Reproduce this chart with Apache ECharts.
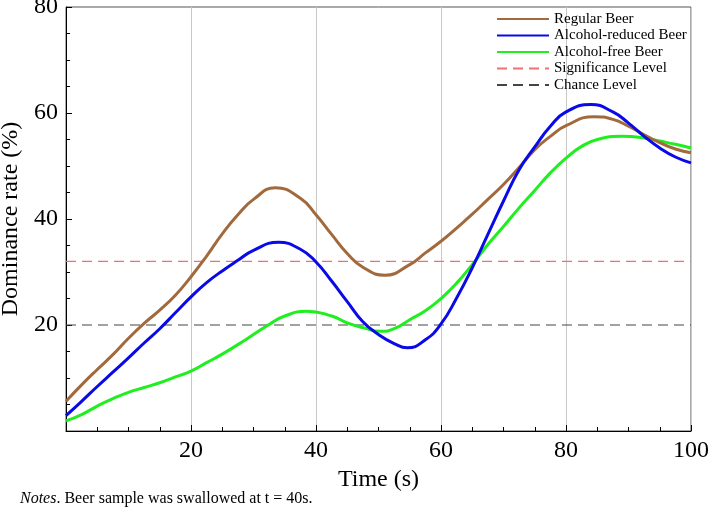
<!DOCTYPE html>
<html>
<head>
<meta charset="utf-8">
<script src="https://cdn.jsdelivr.net/npm/echarts@6/dist/echarts.min.js"></script>
<style>
html,body{margin:0;padding:0;background:#fff;}
#chart{width:709px;height:514px;}
</style>
</head>
<body>
<div id="chart"></div>
<script>
// Values (time in s, dominance rate in %)
var regularTimes = [0,2.5,5,7.5,10,12.5,15,17.5,20,22.5,25,27.5,30,33.5,37.5,40,42.5,45,47.5,51,55,57.5,60,62.5,65,67.5,70,72.5,75,77.5,80,84.5,87.5,90,92.5,95,97.5,100];
var regularBeer  = [5.6,8.7,11.6,14.4,17.5,20.3,22.8,25.6,29.1,33.0,37.2,40.8,43.7,45.9,43.9,40.8,37.1,33.5,30.9,29.4,31.4,33.6,35.8,38.3,40.9,43.7,46.5,49.7,53.1,55.6,57.6,59.3,58.8,57.5,55.9,54.4,53.2,52.5];
var reducedTimes = [0,2.5,5,7.5,10,12.5,15,17.5,20,22.5,25,27.5,30,34,37.5,40,42.5,45,47.5,50,52.5,54.6,57.5,60,62.5,65,67.5,70,72.5,75,77.5,80,84,87.5,90,92.5,95,97.5,100];
var reducedBeer  = [2.9,5.6,8.4,11.1,13.8,16.6,19.3,22.3,25.3,28.0,30.2,32.2,34.1,35.6,34.3,31.9,28.3,24.4,20.6,18.2,16.5,15.7,17.2,20.2,25.1,30.8,37.1,43.4,49.3,53.6,57.5,60.2,61.6,60.2,58.1,55.6,53.4,51.7,50.6];
var freeTimes    = [0,2.5,5,7.5,10,12.5,15,17.5,20,22.5,25,27.5,30,32.5,35,38.5,42.5,45,47.5,50.4,52.5,55,57.5,60,62.5,65,67.5,70,72.5,75,77.5,80,82.5,85,89,92.5,95,97.5,100];
var freeBeer     = [1.9,3.1,4.7,6.1,7.3,8.2,9.1,10.2,11.3,12.9,14.5,16.3,18.2,20.1,21.7,22.6,21.7,20.4,19.5,18.8,19.3,21.0,22.7,25.0,27.9,31.4,35.2,38.6,42.1,45.4,48.7,51.5,53.7,55.0,55.6,55.3,54.7,54.1,53.4];
var significanceLevel = 32;
var chanceLevel = 20;
var timeRange = [0, 100];
var xTickLabels = ['', '20', '40', '60', '80', '100'];
var yTickLabels = ['', '20', '40', '60', '80'];
var seriesNames = ['Regular Beer','Alcohol-reduced Beer','Alcohol-free Beer','Significance Level','Chance Level'];

function pairs(xs, ys){ return xs.map(function(x, i){ return [x, ys[i]]; }); }

var chart = echarts.init(document.getElementById('chart'));
var serif = 'Liberation Serif';
chart.setOption({
  animation: false,
  backgroundColor: '#fff',
  textStyle: {fontFamily: serif},
  grid: {left: 66, right: 18, top: 7, bottom: 83, show: true, borderColor: '#555', borderWidth: 1,
    containLabel: false, outerBoundsMode: 'none'},
  legend: {
    orient: 'vertical', left: 491, top: 6, padding: 5,
    itemWidth: 52, itemHeight: 12, itemGap: 0.5, itemTextGap: 7,
    itemStyle: {opacity: 0},
    textStyle: {fontFamily: serif, fontSize: 15, color: '#000', lineHeight: 16},
    data: seriesNames
  },
  xAxis: {
    type: 'value', min: 0, max: 100, interval: 20,
    name: 'Time (s)', nameLocation: 'middle', nameGap: 36,
    nameTextStyle: {fontFamily: serif, fontSize: 24, color: '#000'},
    axisLine: {show: true, lineStyle: {color: '#000', width: 1}},
    axisTick: {show: true, inside: true, length: 6, lineStyle: {color: '#000'}},
    minorTick: {show: true, splitNumber: 4, length: 4, lineStyle: {color: '#000'}},
    splitLine: {show: true, lineStyle: {color: '#c8c8c8', width: 1}},
    axisLabel: {fontFamily: serif, fontSize: 24, color: '#000', margin: 8,
      formatter: function(v){ return xTickLabels[Math.round(v / 20)]; }}
  },
  yAxis: {
    type: 'value', min: 0, max: 80, interval: 20,
    name: 'Dominance rate (%)', nameLocation: 'middle', nameGap: 35,
    nameTextStyle: {fontFamily: serif, fontSize: 24, color: '#000'},
    axisLine: {show: true, lineStyle: {color: '#000', width: 1}},
    axisTick: {show: true, inside: true, length: 6, lineStyle: {color: '#000'}},
    minorTick: {show: true, splitNumber: 4, length: 4, lineStyle: {color: '#000'}},
    splitLine: {show: false},
    axisLabel: {fontFamily: serif, fontSize: 24, color: '#000', margin: 8,
      formatter: function(v){ return yTickLabels[Math.round(v / 20)]; }}
  },
  series: [
    {name: seriesNames[0], type: 'line', data: pairs(regularTimes, regularBeer), smooth: 0.5, symbol: 'none',
      lineStyle: {color: '#a26a3c', width: 3}, itemStyle: {color: '#a26a3c'}, z: 4},
    {name: seriesNames[1], type: 'line', data: pairs(reducedTimes, reducedBeer), smooth: 0.5, symbol: 'none',
      lineStyle: {color: '#0a0ae6', width: 3}, itemStyle: {color: '#0a0ae6'}, z: 5},
    {name: seriesNames[2], type: 'line', data: pairs(freeTimes, freeBeer), smooth: 0.5, symbol: 'none',
      lineStyle: {color: '#1fee1f', width: 3}, itemStyle: {color: '#1fee1f'}, z: 3},
    {name: seriesNames[3], type: 'line', data: [[timeRange[0], significanceLevel],[timeRange[1], significanceLevel]], symbol: 'none',
      lineStyle: {color: '#f07070', width: 1.2, type: [10, 6]}, itemStyle: {color: '#f07070'}, z: 2},
    {name: seriesNames[4], type: 'line', data: [[timeRange[0], chanceLevel],[timeRange[1], chanceLevel]], symbol: 'none',
      lineStyle: {color: '#444444', width: 1.2, type: [10, 6]}, itemStyle: {color: '#444444'}, z: 2}
  ],
  graphic: [{
    type: 'text', left: 20, top: 491,
    style: {
      text: '{i|Notes}. Beer sample was swallowed at t = 40s.',
      fontFamily: serif, fontSize: 16, fill: '#000',
      rich: {i: {fontFamily: serif, fontSize: 16, fontStyle: 'italic', fill: '#000'}}
    }
  }]
});
</script>
</body>
</html>
